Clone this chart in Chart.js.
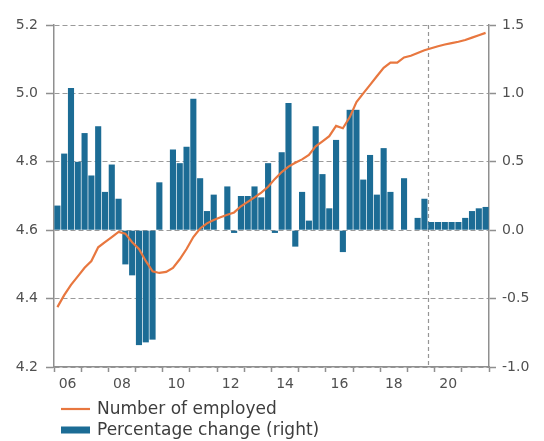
<!DOCTYPE html>
<html>
<head>
<meta charset="utf-8">
<title>Employment</title>
<script src="https://cdn.jsdelivr.net/npm/chart.js@4.4.1/dist/chart.umd.min.js"></script>
<style>
  html, body { margin: 0; padding: 0; background: #ffffff; }
  #wrap { width: 544px; height: 441px; }
</style>
</head>
<body>
<div id="wrap"><canvas id="chart" width="544" height="441"></canvas></div>
<script>
// Quarterly observations, 2006Q1 - 2021Q4
const quarters = [
  '2006Q1','2006Q2','2006Q3','2006Q4','2007Q1','2007Q2','2007Q3','2007Q4',
  '2008Q1','2008Q2','2008Q3','2008Q4','2009Q1','2009Q2','2009Q3','2009Q4',
  '2010Q1','2010Q2','2010Q3','2010Q4','2011Q1','2011Q2','2011Q3','2011Q4',
  '2012Q1','2012Q2','2012Q3','2012Q4','2013Q1','2013Q2','2013Q3','2013Q4',
  '2014Q1','2014Q2','2014Q3','2014Q4','2015Q1','2015Q2','2015Q3','2015Q4',
  '2016Q1','2016Q2','2016Q3','2016Q4','2017Q1','2017Q2','2017Q3','2017Q4',
  '2018Q1','2018Q2','2018Q3','2018Q4','2019Q1','2019Q2','2019Q3','2019Q4',
  '2020Q1','2020Q2','2020Q3','2020Q4','2021Q1','2021Q2','2021Q3','2021Q4'
];

// Number of employed, millions (left axis)
const employed = [
  4.375, 4.410, 4.440, 4.465, 4.490, 4.510, 4.550, 4.565,
  4.580, 4.595, 4.590, 4.565, 4.545, 4.510, 4.480, 4.475,
  4.478, 4.490, 4.515, 4.545, 4.580, 4.605, 4.620, 4.630,
  4.638, 4.645, 4.652, 4.670, 4.683, 4.696, 4.710, 4.727,
  4.750, 4.770, 4.786, 4.797, 4.807, 4.820, 4.845, 4.860,
  4.875, 4.905, 4.898, 4.930, 4.975, 5.000, 5.025, 5.050,
  5.075, 5.090, 5.090, 5.105, 5.110, 5.118, 5.126, 5.132,
  5.138, 5.143, 5.147, 5.151, 5.156, 5.163, 5.170, 5.177
];

// Percentage change on previous quarter (right axis)
const pctChange = [
  0.18, 0.56, 1.04, 0.50, 0.71, 0.40, 0.76, 0.28,
  0.48, 0.23, -0.25, -0.33, -0.84, -0.82, -0.80, 0.35,
  0.00, 0.59, 0.49, 0.61, 0.96, 0.38, 0.14, 0.26,
  0.00, 0.32, -0.02, 0.25, 0.25, 0.32, 0.24, 0.49,
  -0.02, 0.57, 0.93, -0.12, 0.28, 0.07, 0.76, 0.41,
  0.16, 0.66, -0.16, 0.88, 0.88, 0.37, 0.55, 0.26,
  0.60, 0.28, 0.00, 0.38, 0.00, 0.09, 0.23, 0.06,
  0.06, 0.06, 0.06, 0.06, 0.09, 0.14, 0.16, 0.17
];

// Year labels shown under the axis (every second year)
const yearLabels = ['06', '08', '10', '12', '14', '16', '18', '20'];
const labelYears = [2006, 2008, 2010, 2012, 2014, 2016, 2018, 2020];

// Last observed quarter before the projection period
const lastActual = '2019Q3';

const leftAxisTicks = { min: 4.2, max: 5.2, step: 0.2 };
const rightAxisTicks = { min: -1.0, max: 1.5, step: 0.5 };

// Mid-point of a quarter on a continuous year scale
function quarterPos(label) {
  const year = parseInt(label.slice(0, 4), 10);
  const q = parseInt(label.slice(5), 10);
  return year + (q - 0.5) / 4;
}
function quarterEnd(label) {
  const year = parseInt(label.slice(0, 4), 10);
  const q = parseInt(label.slice(5), 10);
  return year + q / 4;
}

const firstYear = parseInt(quarters[0].slice(0, 4), 10);
const endYear = parseInt(quarters[quarters.length - 1].slice(0, 4), 10) + 1;

const lineData = quarters.map((q, i) => ({ x: quarterPos(q), y: employed[i] }));
const barData = quarters.map((q, i) => ({ x: quarterPos(q), y: pctChange[i] }));

const AXIS_COLOR = '#8f8f8f';
const GRID_COLOR = '#9a9a9a';
const TEXT_COLOR = '#505050';
const FONT = 'DejaVu Sans';

// Vertical dashed marker at the end of the observed data
const projectionLine = {
  id: 'projectionLine',
  beforeDatasetsDraw(chart, args, opts) {
    const xs = chart.scales.x;
    const area = chart.chartArea;
    const px = Math.round(xs.getPixelForValue(opts.value)) + 0.5;
    const ctx = chart.ctx;
    ctx.save();
    ctx.strokeStyle = opts.color;
    ctx.lineWidth = opts.width;
    ctx.setLineDash(opts.dash);
    ctx.beginPath();
    ctx.moveTo(px, area.top);
    ctx.lineTo(px, area.bottom);
    ctx.stroke();
    ctx.restore();
  }
};

// Two-row legend under the axis
const stackedLegend = {
  id: 'stackedLegend',
  afterDraw(chart, args, opts) {
    const ctx = chart.ctx;
    ctx.save();
    ctx.font = opts.font;
    ctx.fillStyle = opts.color;
    ctx.textBaseline = 'middle';
    ctx.textAlign = 'left';
    chart.data.datasets.forEach((ds, i) => {
      const y = opts.top + i * opts.rowHeight;
      if (ds.type === 'line') {
        ctx.save();
        ctx.strokeStyle = ds.borderColor;
        ctx.lineWidth = ds.borderWidth;
        ctx.beginPath();
        ctx.moveTo(opts.left, y);
        ctx.lineTo(opts.left + opts.boxWidth, y);
        ctx.stroke();
        ctx.restore();
      } else {
        ctx.fillStyle = ds.backgroundColor;
        ctx.fillRect(opts.left, y - opts.boxHeight / 2, opts.boxWidth, opts.boxHeight);
        ctx.fillStyle = opts.color;
      }
      ctx.fillText(ds.label, opts.left + opts.boxWidth + opts.gap, y + 1);
    });
    ctx.restore();
  }
};

const xTickValues = [];
for (let y = firstYear; y <= endYear; y++) xTickValues.push(y);
labelYears.forEach(y => xTickValues.push(y + 0.5));
xTickValues.sort((a, b) => a - b);

new Chart(document.getElementById('chart'), {
  data: {
    datasets: [
      {
        type: 'line',
        label: 'Number of employed',
        data: lineData,
        yAxisID: 'y',
        borderColor: '#e8773f',
        borderWidth: 2.2,
        pointRadius: 0,
        tension: 0,
        order: 1
      },
      {
        type: 'bar',
        label: 'Percentage change (right)',
        data: barData,
        yAxisID: 'y2',
        backgroundColor: '#1c6c95',
        categoryPercentage: 1.0,
        barPercentage: 0.9,
        order: 2
      }
    ]
  },
  options: {
    responsive: false,
    animation: false,
    devicePixelRatio: 1,
    layout: { padding: { top: 25, bottom: 44, left: 0, right: 0 } },
    plugins: {
      legend: { display: false },
      tooltip: { enabled: false },
      projectionLine: { value: quarterEnd(lastActual), color: '#959595', width: 1.2, dash: [4, 3] },
      stackedLegend: {
        left: 61, top: 409, rowHeight: 21, boxWidth: 29, boxHeight: 7, gap: 7,
        font: '17px "DejaVu Sans"', color: '#3d3d3d'
      }
    },
    scales: {
      x: {
        type: 'linear',
        offset: false,
        min: firstYear,
        max: endYear,
        afterBuildTicks: (scale) => { scale.ticks = xTickValues.map(v => ({ value: v })); },
        afterFit: (scale) => { scale.height = 30; },
        ticks: {
          autoSkip: false,
          maxRotation: 0,
          padding: 4,
          color: TEXT_COLOR,
          font: { family: FONT, size: 14 },
          callback: (v) => {
            const i = labelYears.indexOf(v - 0.5);
            return i >= 0 ? yearLabels[i] : '';
          }
        },
        grid: {
          offset: false,
          drawOnChartArea: false,
          tickLength: 5,
          tickWidth: 1.5,
          tickColor: (ctx) => (ctx.tick && Number.isInteger(ctx.tick.value)) ? AXIS_COLOR : 'rgba(0,0,0,0)'
        },
        border: { display: true, color: AXIS_COLOR, width: 1.5 }
      },
      y: {
        position: 'left',
        min: leftAxisTicks.min,
        max: leftAxisTicks.max,
        afterFit: (scale) => { scale.width = 54; },
        ticks: {
          stepSize: leftAxisTicks.step,
          padding: 8,
          color: TEXT_COLOR,
          font: { family: FONT, size: 14 },
          callback: (v) => Number(v).toFixed(1)
        },
        grid: {
          color: GRID_COLOR,
          lineWidth: 1,
          tickLength: 8,
          tickColor: AXIS_COLOR,
          tickWidth: 1.5
        },
        border: { display: true, color: AXIS_COLOR, width: 1.5, dash: [5, 3] }
      },
      y2: {
        position: 'right',
        min: rightAxisTicks.min,
        max: rightAxisTicks.max,
        afterFit: (scale) => { scale.width = 55; },
        ticks: {
          stepSize: rightAxisTicks.step,
          padding: 6,
          color: TEXT_COLOR,
          font: { family: FONT, size: 14 },
          callback: (v) => Number(v).toFixed(1)
        },
        grid: {
          drawOnChartArea: false,
          tickLength: 7,
          tickColor: AXIS_COLOR,
          tickWidth: 1.5
        },
        border: { display: true, color: AXIS_COLOR, width: 1.5 }
      }
    }
  },
  plugins: [projectionLine, stackedLegend]
});
</script>
</body>
</html>
